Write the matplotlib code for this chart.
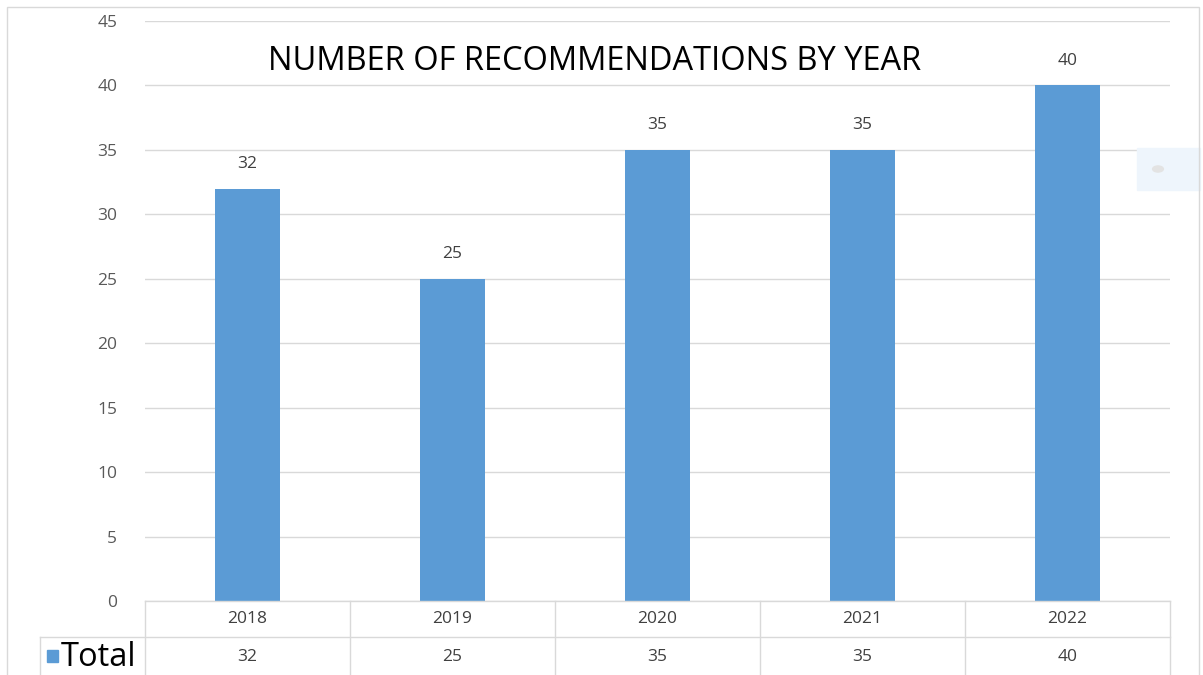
import matplotlib.pyplot as plt
from matplotlib.patches import Rectangle

years = ["2018", "2019", "2020", "2021", "2022"]
totals = [32, 25, 35, 35, 40]
series_name = "Total"

W, H = 1203, 675
plt.rcParams['font.family'] = ['Open Sans', 'DejaVu Sans']

fig = plt.figure(figsize=(W / 100, H / 100), dpi=100)

# plot area in pixels
x0, x1 = 145, 1170
ytop, ybot = 21, 601
ymax = 45
ax = fig.add_axes([x0 / W, 1 - ybot / H, (x1 - x0) / W, (ybot - ytop) / H])

xs = range(len(years))
ax.bar(xs, totals, width=0.32, color="#5B9BD5", zorder=3)
for x, v in zip(xs, totals):
    ax.text(x, v + 1.3, str(v), ha="center", va="bottom", fontsize=12.5, color="#404040")

ax.set_xlim(-0.5, len(years) - 0.5)
ax.set_ylim(0, ymax)
ax.set_yticks(range(0, 46, 5))
ax.yaxis.grid(True, color="#d9d9d9", linewidth=1)
ax.tick_params(axis="y", length=0, pad=20, labelsize=12.5, labelcolor="#595959")
ax.set_xticks([])
for s in ax.spines.values():
    s.set_visible(False)

fig.text(595 / W, 1 - 61 / H, "NUMBER OF RECOMMENDATIONS BY YEAR", ha="center", va="center",
         fontsize=23.5, color="#000000")

# data table below the plot
px = (ybot - ytop)
def ay(ypix):
    # pixel row -> data units
    return (ybot - ypix) / px * ymax

row1 = 637
lc = "#d9d9d9"
ax.plot([-0.5, len(years) - 0.5], [0, 0], color=lc, lw=1, clip_on=False, zorder=4)
x_left = -0.5 - (x0 - 40) / 205.0
ax.plot([x_left, len(years) - 0.5], [ay(row1)] * 2, color=lc, lw=1, clip_on=False)
ax.plot([x_left, x_left], [ay(row1), ay(H + 5)], color=lc, lw=1, clip_on=False)
for i in range(len(years) + 1):
    ax.plot([i - 0.5, i - 0.5], [0, ay(H + 5)], color=lc, lw=1, clip_on=False)
for i, (yr, v) in enumerate(zip(years, totals)):
    ax.text(i, ay(619), yr, ha="center", va="center", fontsize=12.5, color="#404040")
    ax.text(i, ay(657), str(v), ha="center", va="center", fontsize=12.5, color="#404040")

fig.patches.append(Rectangle((47 / W, 1 - 662 / H), 11 / W, 12 / H,
                             transform=fig.transFigure, color="#5B9BD5"))
fig.text(61 / W, 1 - 657 / H, series_name, ha="left", va="center", fontsize=23.5, color="#000000")

# outer chart border
fig.patches.append(Rectangle((7 / W, -0.01), 1192 / W, 1 - 7 / H + 0.01,
                             transform=fig.transFigure, fill=False, edgecolor="#d9d9d9", lw=1))
# faint leftover legend box
fig.patches.append(Rectangle((1137 / W, 1 - 190 / H), 63 / W, 42 / H,
                             transform=fig.transFigure, color="#eef5fc", zorder=0))
fig.patches.append(plt.Circle((1158 / W, 1 - 169 / H), 0.0045, transform=fig.transFigure,
                              color="#e3e3e3"))

fig.savefig("out.png", dpi=100)
